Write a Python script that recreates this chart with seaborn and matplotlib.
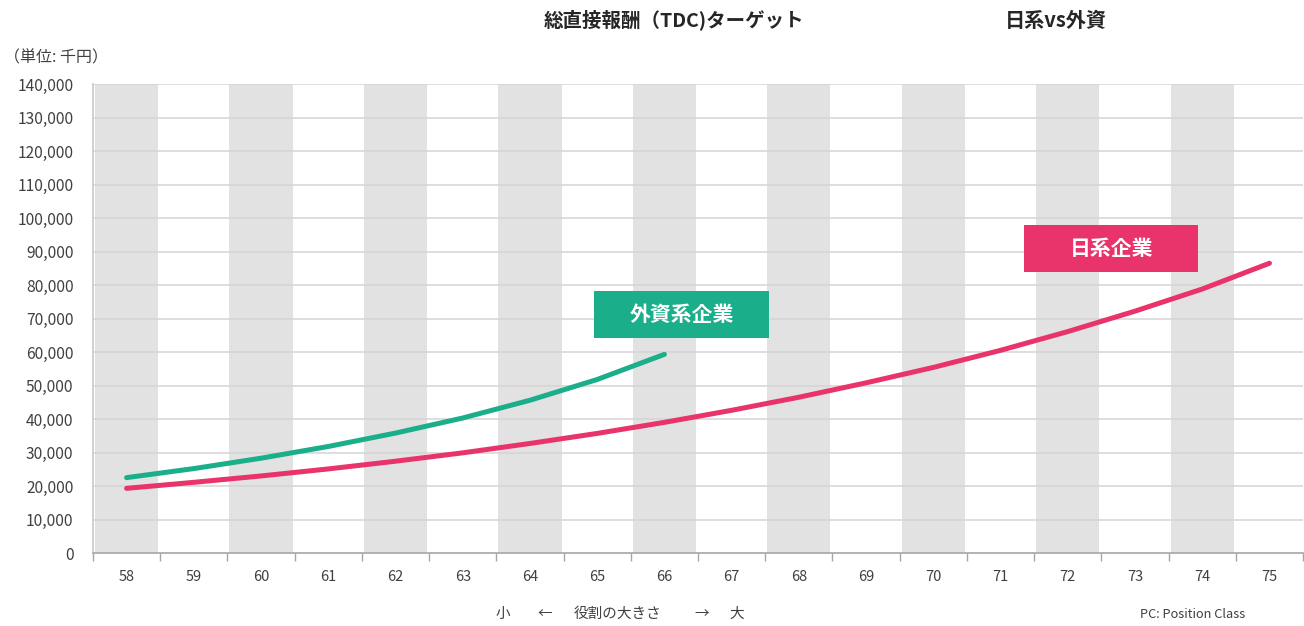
import matplotlib
matplotlib.use("Agg")
import matplotlib.pyplot as plt
from matplotlib.patches import Rectangle
import pandas as pd
import seaborn as sns

# Position classes (PC) on the x axis
pc = list(range(58, 76))

# Total direct compensation target (thousand yen)
foreign_pc = list(range(58, 67))
foreign_tdc = [22500, 25200, 28300, 31800, 35800, 40300, 45600, 51800, 59300]
japanese_tdc = [19300, 21100, 23000, 25100, 27400, 29900, 32700, 35700, 39000,
                42600, 46500, 50800, 55400, 60500, 66100, 72200, 78800, 86500]

series_names = ["外資系企業", "日系企業"]
colors = {"外資系企業": "#1bae8a", "日系企業": "#e8336b"}
y_ticks = list(range(0, 140001, 10000))

df = pd.concat([
    pd.DataFrame({"PC": foreign_pc, "TDC": foreign_tdc, "系列": series_names[0]}),
    pd.DataFrame({"PC": pc, "TDC": japanese_tdc, "系列": series_names[1]}),
])

sns.set_theme(style="white")
plt.rcParams["font.family"] = ["Noto Sans CJK JP", "DejaVu Sans"]

fig = plt.figure(figsize=(13.04, 6.26), dpi=100)
ax = fig.add_axes([0.0713, 0.1166, 0.9280, 0.7492])

# alternating shaded columns
for i, p in enumerate(pc):
    if i % 2 == 0:
        ax.axvspan(p - 0.47, p + 0.47, color="#e2e2e2", lw=0, zorder=0)

for v in y_ticks[1:]:
    ax.axhline(v, color="#d4d4d4", lw=1.1, zorder=1)

sns.lineplot(data=df, x="PC", y="TDC", hue="系列", palette=colors,
             linewidth=3.6, legend=False, ax=ax, zorder=3,
             solid_capstyle="round", solid_joinstyle="round")

ax.set_xlim(57.5, 75.5)
ax.set_ylim(0, 140000)
ax.set_xticks(pc)
ax.set_xticklabels([str(p) for p in pc], fontsize=10.5, color="#404040")
ax.set_xticks([p - 0.5 for p in pc] + [75.5], minor=True)
ax.tick_params(axis="x", which="major", length=0, pad=12)
ax.tick_params(axis="x", which="minor", length=6, width=1, color="#a6a6a6",
               direction="out", bottom=True)
ax.set_yticks(y_ticks)
ax.set_yticklabels([f"{v:,}" for v in y_ticks], fontsize=11.2, color="#404040")
ax.tick_params(axis="y", length=0, pad=14)
ax.set_xlabel("")
ax.set_ylabel("")

for side in ["top", "right"]:
    ax.spines[side].set_visible(False)
ax.spines["bottom"].set_color("#a6a6a6")
ax.spines["bottom"].set_linewidth(1.2)
ax.spines["left"].set_color("#c8c8c8")
ax.spines["left"].set_linewidth(1.2)

# series labels in filled boxes
label_boxes = [
    ("外資系企業", 64.96, 64200, colors["外資系企業"]),
    ("日系企業", 71.35, 83900, colors["日系企業"]),
]
for text, x0, y0, c in label_boxes:
    w, h = 2.59, 14100
    ax.add_patch(Rectangle((x0, y0), w, h, facecolor=c, edgecolor="none", zorder=4))
    ax.text(x0 + w / 2, y0 + h / 2, text, ha="center", va="center",
            fontsize=15, fontweight="bold", color="white", zorder=5)

fig.text(0.5165, 0.968, "総直接報酬（TDC)ターゲット", ha="center", va="center",
         fontsize=14, fontweight="bold", color="#262626")
fig.text(0.8095, 0.968, "日系vs外資", ha="center", va="center",
         fontsize=14.5, fontweight="bold", color="#262626")
fig.text(0.003, 0.907, "（単位: 千円）", ha="left", va="center",
         fontsize=11.5, color="#404040")

# axis caption: role size, small to large
for txt, xpix in [("小", 503), ("←", 545), ("役割の大きさ", 618), ("→", 702), ("大", 737)]:
    fig.text(xpix / 1304, 0.019, txt, ha="center", va="center",
             fontsize=10.5, color="#404040")
fig.text(0.874, 0.019, "PC: Position Class", ha="left", va="center",
         fontsize=9.2, color="#404040")

fig.savefig("out.png", dpi=100)
